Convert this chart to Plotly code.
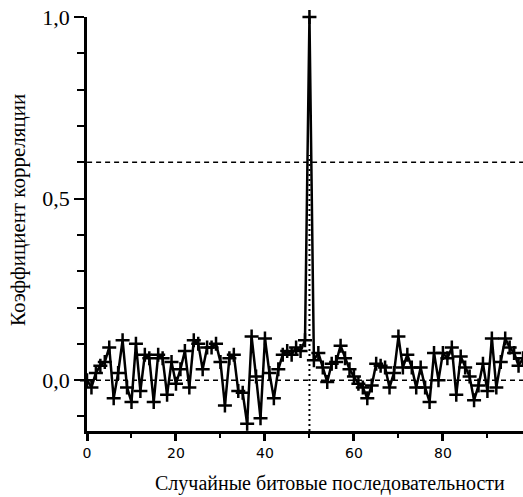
import plotly.graph_objects as go

# Data: correlation coefficient vs random bit sequence index
seq_index = list(range(0, 99))
corr_values = [
    0.00, -0.02, 0.02, 0.04, 0.05, 0.09, -0.05, 0.02, 0.11, -0.02,
    -0.06, 0.10, -0.03, 0.07, 0.06, -0.06, 0.07, 0.06, -0.04, 0.05,
    -0.01, 0.03, 0.08, -0.02, 0.11, 0.10, 0.03, 0.09, 0.09, 0.10,
    0.05, -0.07, 0.06, 0.07, -0.03, -0.035, -0.12, 0.12, 0.01, -0.105,
    0.115, 0.02, -0.05, 0.03, 0.07, 0.08, 0.07, 0.09, 0.08, 0.11,
    1.00, 0.055, 0.075, 0.035, -0.005, 0.045, 0.05, 0.095, 0.06, 0.03,
    0.01, -0.01, -0.02, -0.05, -0.015, 0.045, 0.04, 0.035, -0.02, 0.02,
    0.12, 0.035, 0.07, 0.035, -0.02, 0.035, -0.02, -0.06, 0.075, 0.0,
    0.075, 0.06, 0.09, -0.04, 0.065, 0.035, 0.01, -0.055, -0.015, 0.045,
    -0.03, 0.115, -0.02, 0.05, 0.115, 0.09, 0.075, 0.04, 0.06,
]
threshold = 0.6
baseline = 0.0
peak_index = 50
x_range = [0, 98]
y_range = [-0.14, 1.0]
y_tickvals = [0.0, 0.5, 1.0]
y_ticktext = ["0,0", "0,5", "1,0"]
x_tickvals = [0, 20, 40, 60, 80]
x_ticktext = ["0", "20", "40", "60", "80"]

fig = go.Figure()

# reference lines
fig.add_shape(type="line", xref="x", yref="y", x0=x_range[0] - 2, x1=x_range[1],
              y0=threshold, y1=threshold,
              line=dict(color="black", width=1.5, dash="5px,4px"))
fig.add_shape(type="line", xref="x", yref="y", x0=x_range[0], x1=x_range[1],
              y0=baseline, y1=baseline,
              line=dict(color="black", width=1.5, dash="5px,4px"))
fig.add_shape(type="line", xref="x", yref="y", x0=peak_index, x1=peak_index,
              y0=y_range[0], y1=threshold + 0.02,
              line=dict(color="black", width=2, dash="2px,3px"))

fig.add_trace(go.Scatter(
    x=seq_index, y=corr_values, mode="lines+markers",
    line=dict(color="black", width=2.5),
    marker=dict(symbol="cross-thin", size=10, color="black",
                line=dict(color="black", width=2.5)),
    cliponaxis=False, showlegend=False,
))

fig.update_layout(
    width=523, height=497,
    margin=dict(l=87, r=0, t=17, b=66),
    paper_bgcolor="white", plot_bgcolor="white",
    showlegend=False,
    xaxis=dict(
        range=x_range, showgrid=False, zeroline=False,
        showline=True, linecolor="black", linewidth=2.5,
        tickmode="array", tickvals=x_tickvals, ticktext=x_ticktext,
        ticks="outside", ticklen=7, tickwidth=2.5, tickcolor="black",
        minor=dict(dtick=10, tick0=0, ticks="outside", ticklen=4, tickwidth=2, tickcolor="black"),
        tickfont=dict(family="DejaVu Sans", size=14, color="black"),
    ),
    yaxis=dict(
        range=y_range, showgrid=False, zeroline=False,
        showline=True, linecolor="black", linewidth=2.5,
        tickmode="array", tickvals=y_tickvals, ticktext=y_ticktext,
        ticks="outside", ticklen=10, tickwidth=2, tickcolor="black",
        minor=dict(dtick=0.1, tick0=0, ticks="outside", ticklen=7, tickwidth=2, tickcolor="black"),
        tickfont=dict(family="Liberation Serif", size=22, color="black"),
    ),
    annotations=[
        dict(text="Случайные битовые последовательности", xref="paper", yref="paper",
             x=0.557, y=-0.128, showarrow=False, xanchor="center", yanchor="middle",
             font=dict(family="Liberation Serif", size=20, color="black")),
        dict(text="Коэффициент корреляции", xref="paper", yref="paper",
             x=-0.158, y=0.534, showarrow=False, xanchor="center", yanchor="middle",
             textangle=-90,
             font=dict(family="Liberation Serif", size=21, color="black")),
    ],
)

fig.write_html("out.html", config={"displayModeBar": False},
               post_script="document.body.style.margin='0';")
